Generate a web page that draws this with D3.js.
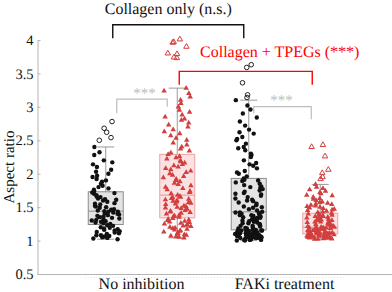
<!DOCTYPE html>
<html>
<head>
<meta charset="utf-8">
<script src="https://cdn.jsdelivr.net/npm/d3@7"></script>
<style>
	body { margin: 0; background: #fff; }
	svg text { text-rendering: geometricPrecision; }
</style>
</head>
<body>
<div id="chart"></div>
<script>
// categories and series
var categories = ["No inhibition", "FAKi treatment"];
var series = ["Collagen only", "Collagen + TPEGs"];
var yTicks = [0.5, 1, 1.5, 2, 2.5, 3, 3.5, 4];

// individual aspect ratios
var noInhCollagen = [1.02,1.03,1.04,1.05,1.06,1.07,1.08,1.08,1.1,1.11,1.12,1.13,1.14,1.15,1.16,1.17,1.18,1.19,1.2,1.22,1.23,
	1.25,1.26,1.27,1.28,1.29,1.3,1.31,1.32,1.33,1.34,1.35,1.36,1.37,1.38,1.39,1.4,1.41,1.42,1.43,1.43,1.44,
	1.45,1.46,1.47,1.49,1.5,1.51,1.52,1.54,1.55,1.56,1.58,1.6,1.61,1.62,1.63,1.65,1.66,1.68,1.7,1.71,1.72,
	1.74,1.76,1.78,1.8,1.82,1.85,1.88,1.9,1.92,1.95,1.97,2.0,2.03,2.06,2.1,2.14,2.17,2.2,2.28,2.32,2.4];
var noInhTPEG = [1.04,1.05,1.06,1.07,1.08,1.09,1.1,1.11,1.12,1.13,1.14,1.15,1.16,1.17,1.18,1.19,1.2,1.21,1.22,1.23,1.24,1.25,1.26,1.27,1.28,1.29,1.3,1.31,1.32,1.33,
	1.35,1.36,1.37,1.38,1.4,1.41,1.42,1.43,1.44,1.45,1.47,1.48,1.49,1.5,1.51,1.52,1.54,1.55,1.56,1.57,1.58,1.59,1.6,1.61,1.62,1.63,1.64,1.65,1.66,1.68,
	1.7,1.72,1.74,1.76,1.78,1.8,1.82,1.84,1.86,1.88,1.9,1.92,1.94,1.96,1.98,2.0,2.02,2.04,2.06,2.08,2.1,2.12,2.14,2.16,2.18,2.2,2.22,2.24,2.26,2.29,
	2.31,2.34,2.37,2.4,2.43,2.46,2.5,2.53,2.57,2.6,2.63,2.66,2.7,2.73,2.76,2.8,2.82,2.85,2.88,2.92,2.95,3.0,3.05,3.1,3.15,3.2,3.24,3.28];
var fakCollagen = [1.0,1.0,1.01,1.01,1.01,1.02,1.02,1.02,1.03,1.03,1.03,1.04,1.04,1.04,1.05,1.05,1.05,1.06,1.06,1.06,1.07,1.07,1.07,1.08,1.08,1.08,1.09,1.09,1.09,1.1,1.1,1.1,1.11,1.11,1.11,1.12,1.12,1.12,1.13,1.13,1.13,1.14,1.14,1.14,1.15,1.15,1.15,1.16,1.16,1.16,
	1.17,1.18,1.18,1.19,1.2,1.21,1.22,1.22,1.23,1.24,1.25,1.26,1.26,1.27,1.28,1.29,1.3,1.3,1.31,1.32,1.33,1.34,1.34,1.35,1.36,1.37,1.38,1.38,1.39,1.4,1.41,1.42,1.42,1.43,
	1.45,1.47,1.49,1.5,1.51,1.53,1.55,1.57,1.59,1.6,1.61,1.63,1.65,1.67,1.69,1.7,1.71,1.73,1.75,1.77,1.79,1.8,1.81,1.83,1.85,1.87,1.89,1.9,1.91,1.93,
	1.96,2.0,2.02,2.04,2.08,2.12,2.14,2.16,2.2,2.25,2.28,2.3,2.35,2.38,2.4,2.45,2.5,2.52,2.55,2.6,2.62,2.66,2.72,2.78,2.84,2.9,2.96,3.02,3.1];
var fakTPEG = [1.02,1.02,1.03,1.03,1.03,1.04,1.04,1.04,1.05,1.05,1.05,1.05,1.06,1.06,1.06,1.07,1.07,1.07,1.07,1.08,1.08,1.08,1.08,1.09,1.09,1.09,1.09,1.1,1.1,1.1,
	1.11,1.11,1.11,1.12,1.12,1.12,1.13,1.13,1.13,1.14,1.14,1.14,1.15,1.15,1.15,1.16,1.16,1.16,1.17,1.17,1.17,1.18,1.18,1.18,1.19,1.19,1.19,1.2,1.2,1.2,
	1.21,1.22,1.22,1.23,1.24,1.24,1.25,1.26,1.26,1.27,1.28,1.28,1.29,1.3,1.3,1.31,1.32,1.32,1.33,1.34,1.34,1.35,1.36,1.36,1.37,1.38,1.38,1.39,1.4,1.41,
	1.42,1.43,1.44,1.45,1.46,1.47,1.48,1.49,1.5,1.51,1.52,1.53,1.54,1.55,1.56,1.57,1.58,1.6,1.62,1.63,1.65,1.67,1.68,1.7,1.72,1.74,1.76,1.78,1.8,1.84];

// outliers (open markers)
var noInhCollagenOut = [2.5,2.54,2.62,2.68,2.78];
var noInhTPEGOut = [3.73,3.74,3.79,3.8,3.9,3.96,3.97,4.01];
var fakCollagenOut = [3.14,3.18,3.36,3.59,3.63];
var fakTPEGOut = [1.92,1.95,2.01,2.06,2.26,2.4,2.43];

// box statistics, order: [No inh/collagen, No inh/TPEG, FAKi/collagen, FAKi/TPEG]
var q1Values = [1.24, 1.34, 1.16, 1.10];
var medianValues = [1.44, 1.68, 1.43, 1.20];
var q3Values = [1.73, 2.29, 1.93, 1.41];
var whiskerLow = [1.02, 1.04, 1.0, 1.02];
var whiskerHigh = [2.4, 3.28, 3.1, 1.84];

var groups = [
	{cat: categories[0], ser: series[0], pts: noInhCollagen, out: noInhCollagenOut},
	{cat: categories[0], ser: series[1], pts: noInhTPEG, out: noInhTPEGOut},
	{cat: categories[1], ser: series[0], pts: fakCollagen, out: fakCollagenOut},
	{cat: categories[1], ser: series[1], pts: fakTPEG, out: fakTPEGOut}
];
groups.forEach(function(g, i) {
	g.q1 = q1Values[i]; g.med = medianValues[i]; g.q3 = q3Values[i];
	g.lo = whiskerLow[i]; g.hi = whiskerHigh[i];
});

var sFont = "'Liberation Serif', 'Times New Roman', Times, 'DejaVu Serif', serif";
var iWidth = 392, iHeight = 292;
var svg = d3.select("#chart").append("svg")
	.attr("width", iWidth)
	.attr("height", iHeight)
	.style("font-family", sFont);

var yAxes = d3.scaleLinear().domain([0.5, 4]).range([274, 40]);
var xCat = d3.scaleBand().domain(categories).range([70, 356]).padding(0);
var xSer = d3.scalePoint().domain(series).range([0, xCat.bandwidth()]).padding(0.5);
function cx(g) { return xCat(g.cat) + xSer(g.ser); }

var boxW = 35, capW = 17, jitterW = 14;
var red = "#d23f3f";

// axes
svg.append("line")
	.attr("x1", 37.5).attr("x2", 392)
	.attr("y1", yAxes(0.5) + 0.5).attr("y2", yAxes(0.5) + 0.5)
	.attr("stroke", "#b5b5b5");
svg.append("line")
	.attr("x1", 85).attr("x2", 345)
	.attr("y1", 277.5).attr("y2", 277.5)
	.attr("stroke", "#e6e6e6").attr("stroke-dasharray", "1,2");

var yAxis = svg.append("g")
	.attr("transform", "translate(37.5,0)")
	.call(d3.axisLeft(yAxes).tickValues(yTicks).tickSizeInner(-3).tickSizeOuter(0).tickPadding(4)
		.tickFormat(function(d) { return String(d); }));
yAxis.attr("font-family", sFont);
yAxis.select(".domain").attr("stroke", "#b5b5b5");
yAxis.selectAll(".tick line").attr("stroke", "#b5b5b5");
yAxis.selectAll(".tick text").attr("font-size", 14.5).attr("fill", "#111")
	.style("font-family", sFont);

svg.append("text")
	.attr("transform", "translate(14," + yAxes(2.1) + ") rotate(-90)")
	.attr("text-anchor", "middle")
	.attr("font-size", 15)
	.attr("fill", "#111")
	.text("Aspect ratio");

svg.selectAll(".catlabel")
	.data(categories)
	.enter().append("text")
	.attr("x", function(d) { return xCat(d) + xCat.bandwidth() / 2; })
	.attr("y", 289)
	.attr("text-anchor", "middle")
	.attr("font-size", 16)
	.attr("fill", "#111")
	.text(function(d) { return d; });

// boxes
var boxes = svg.selectAll(".box")
	.data(groups)
	.enter().append("g");

boxes.append("line")
	.attr("x1", cx).attr("x2", cx)
	.attr("y1", function(g) { return yAxes(g.hi); })
	.attr("y2", function(g) { return yAxes(g.lo); })
	.attr("stroke", "#9a9a9a");
boxes.append("line")
	.attr("x1", function(g) { return cx(g) - capW / 2; })
	.attr("x2", function(g) { return cx(g) + capW / 2; })
	.attr("y1", function(g) { return yAxes(g.hi); })
	.attr("y2", function(g) { return yAxes(g.hi); })
	.attr("stroke", "#9a9a9a");
boxes.append("line")
	.attr("x1", function(g) { return cx(g) - capW / 2; })
	.attr("x2", function(g) { return cx(g) + capW / 2; })
	.attr("y1", function(g) { return yAxes(g.lo); })
	.attr("y2", function(g) { return yAxes(g.lo); })
	.attr("stroke", "#9a9a9a");
boxes.append("rect")
	.attr("x", function(g) { return cx(g) - boxW / 2; })
	.attr("width", boxW)
	.attr("y", function(g) { return yAxes(g.q3); })
	.attr("height", function(g) { return yAxes(g.q1) - yAxes(g.q3); })
	.attr("fill", function(g) { return g.ser === series[0] ? "#e3e3e3" : "#fbe1e1"; })
	.attr("stroke", function(g) { return g.ser === series[0] ? "#8c8c8c" : "#eba3a3"; });
boxes.append("line")
	.attr("x1", function(g) { return cx(g) - boxW / 2; })
	.attr("x2", function(g) { return cx(g) + boxW / 2; })
	.attr("y1", function(g) { return yAxes(g.med); })
	.attr("y2", function(g) { return yAxes(g.med); })
	.attr("stroke", function(g) { return g.ser === series[0] ? "#8c8c8c" : "#e59595"; });

// jittered points: deterministic hash of the index, no randomness
function jit(i, k) {
	var s = Math.sin((i + 1) * 12.9898 + k * 78.233) * 43758.5453;
	return ((s - Math.floor(s)) - 0.5) * 2 * jitterW;
}
var tri = d3.symbol().type(d3.symbolTriangle).size(13);

groups.forEach(function(g, k) {
	var c = cx(g);
	if (g.ser === series[0]) {
		svg.selectAll(null).data(g.pts).enter().append("circle")
			.attr("cx", function(d, i) { return c + jit(i, k); })
			.attr("cy", function(d) { return yAxes(d); })
			.attr("r", 2.2)
			.attr("fill", "#111");
		svg.selectAll(null).data(g.out).enter().append("circle")
			.attr("cx", function(d, i) { return c + jit(i + 50, k) * 0.6; })
			.attr("cy", function(d) { return yAxes(d); })
			.attr("r", 2.3)
			.attr("fill", "none")
			.attr("stroke", "#222");
	} else {
		svg.selectAll(null).data(g.pts).enter().append("path")
			.attr("d", tri)
			.attr("transform", function(d, i) { return "translate(" + (c + jit(i, k)) + "," + yAxes(d) + ")"; })
			.attr("fill", red);
		svg.selectAll(null).data(g.out).enter().append("path")
			.attr("d", tri)
			.attr("transform", function(d, i) { return "translate(" + (c + jit(i + 50, k) * 0.8) + "," + yAxes(d) + ")"; })
			.attr("fill", "none")
			.attr("stroke", red);
	}
});

// significance brackets
function bracket(x1, x2, yTop, yLeg1, yLeg2, color, w) {
	svg.append("path")
		.attr("d", "M" + x1 + "," + yAxes(yLeg1) + "V" + yAxes(yTop) + "H" + x2 + "V" + yAxes(yLeg2))
		.attr("fill", "none")
		.attr("stroke", color)
		.attr("stroke-width", w);
}
bracket(cx(groups[0]) + 7, cx(groups[2]) - 5, 4.227, 4.025, 4.025, "#111", 1.4);
bracket(cx(groups[1]) + 2, cx(groups[3]) - 8, 3.53, 3.33, 3.33, "#ff0000", 1.4);
bracket(cx(groups[0]) + 11, cx(groups[1]) - 10, 3.115, 2.906, 3.0, "#bdbdbd", 1.2);
bracket(cx(groups[2]) + 5, cx(groups[3]) - 9, 3.004, 2.9, 2.816, "#bdbdbd", 1.2);

svg.append("text")
	.attr("x", (cx(groups[0]) + cx(groups[2])) / 2 - 9)
	.attr("y", 14)
	.attr("text-anchor", "middle")
	.attr("font-size", 16)
	.attr("fill", "#111")
	.text("Collagen only (n.s.)");
svg.append("text")
	.attr("x", (cx(groups[1]) + cx(groups[3])) / 2 + 31)
	.attr("y", 57)
	.attr("text-anchor", "middle")
	.attr("font-size", 16)
	.attr("fill", "#ff0000")
	.text("Collagen + TPEGs (***)");
svg.append("text")
	.attr("x", (cx(groups[0]) + cx(groups[1])) / 2 + 3)
	.attr("y", 98)
	.attr("text-anchor", "middle")
	.attr("font-size", 15)
	.attr("fill", "#bdbdbd")
	.text("***");
svg.append("text")
	.attr("x", (cx(groups[2]) + cx(groups[3])) / 2 - 3)
	.attr("y", 105)
	.attr("text-anchor", "middle")
	.attr("font-size", 15)
	.attr("fill", "#bdbdbd")
	.text("***");
</script>
</body>
</html>
